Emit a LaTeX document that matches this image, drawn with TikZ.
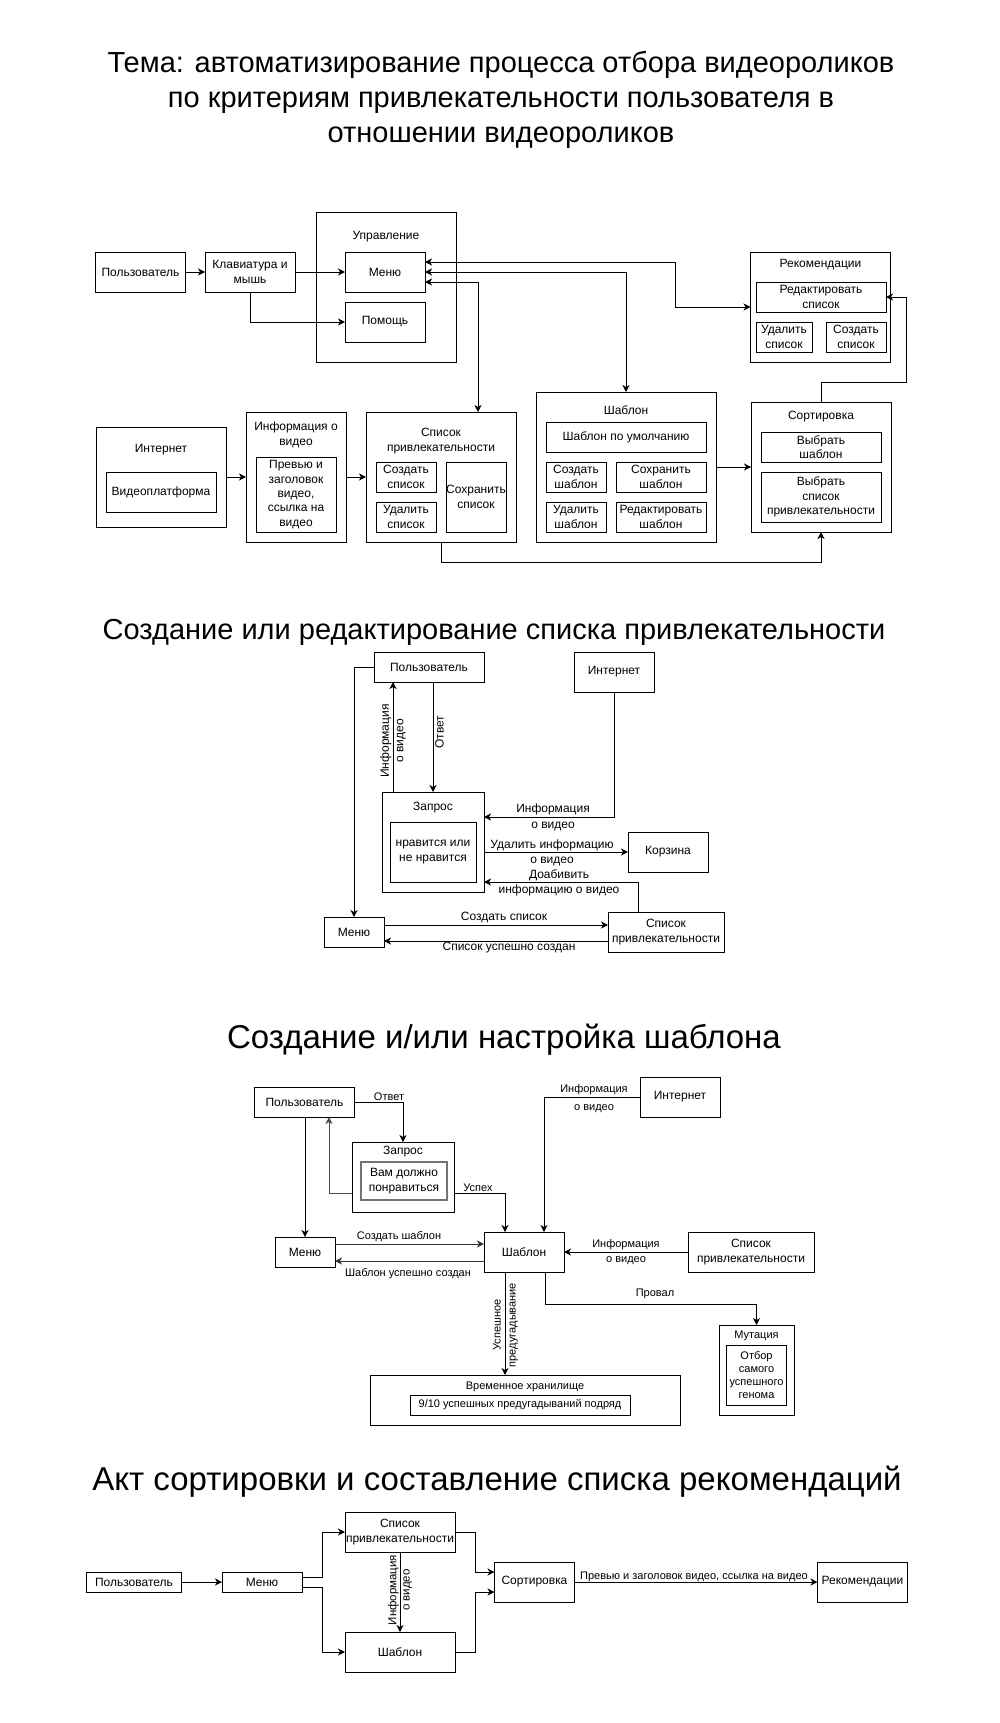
\documentclass[tikz,border=0pt]{standalone}
\usepackage{fontspec}
\setmainfont{Liberation Sans}
\usetikzlibrary{arrows.meta,calc}
\newcommand\myfa{\fontsize{12}{14.4}\selectfont}
\newcommand\myfb{\fontsize{11}{13.2}\selectfont}
\newcommand\myft{\fontsize{29}{35.2}\selectfont}
\newcommand\myftb{\fontsize{33}{39}\selectfont}
\begin{document}
\begin{tikzpicture}[x=1pt,y=-1pt,
  every node/.style={inner sep=0pt,outer sep=0pt,align=center,font=\myfa},
  bx/.style 2 args={draw,line width=1pt,minimum width=#1,minimum height=#2},
  arr/.style={-{Stealth[length=7pt,width=7pt,inset=2pt]},line width=1pt},
  both/.style={{Stealth[length=7pt,width=7pt,inset=2pt]}-{Stealth[length=7pt,width=7pt,inset=2pt]},line width=1pt},
  ttl/.style={font=\myft},
  ttlb/.style={font=\myftb},
  lb/.style={font=\myfb}]
\fill[white] (0,0) rectangle (1000,1723);

% ---------- titles
\node[ttl] (t1) at (501,100) {Тема: автоматизирование процесса отбора видеороликов\\по критериям привлекательности пользователя в\\отношении видеороликов};
\node[ttl] (t2) at (494,632) {Создание или редактирование списка привлекательности};
\node[ttlb] (t3) at (504,1040) {Создание и/или настройка шаблона};
\node[ttlb] (t4) at (497,1482) {Акт сортировки и составление списка рекомендаций};

% ---------- section 1
\node[bx={90}{40}] (u1) at (140.5,272) {Пользователь};
\node[bx={90}{40}] (kb) at (250,272) {Клавиатура и\\мышь};
\node[bx={140}{150}] (upr) at (386,287) {};
\node (uprl) at (386,237) {Управление};
\node[bx={80}{40}] (menu1) at (385,272) {Меню};
\node[bx={80}{40}] (help1) at (385,322) {Помощь};
\node[bx={140}{110}] (rec) at (820.5,307) {};
\node (recl) at (820.5,265) {Рекомендации};
\node[bx={130}{30}] (rece) at (821,297) {Редактировать\\список};
\node[bx={56}{30}] (recd) at (784,337) {Удалить\\список};
\node[bx={60}{30}] (recc) at (856,337) {Создать\\список};

\node[bx={130}{100}] (inet1) at (161,477) {};
\node (inet1l) at (161,450) {Интернет};
\node[bx={110}{40}] (vp) at (161,492) {Видеоплатформа};
\node[bx={100}{130}] (info) at (296,477) {};
\node (infol) at (296,435) {Информация о\\видео};
\node[bx={80}{75}] (prev) at (296,494.5) {Превью и\\заголовок\\видео,\\ссылка на\\видео};
\node[bx={150}{130}] (spl) at (441,477) {};
\node (spll) at (441,441) {Список\\привлекательности};
\node[bx={60}{30}] (splc) at (406,477) {Создать\\список};
\node[bx={60}{30}] (spld) at (406,517) {Удалить\\список};
\node[bx={60}{70}] (spls) at (476,497) {Сохранить\\список};
\node[bx={180}{150}] (sh) at (626,467) {};
\node (shl) at (626,410) {Шаблон};
\node[bx={160}{30}] (shdef) at (626,437) {Шаблон по умолчанию};
\node[bx={60}{30}] (shc) at (576,477) {Создать\\шаблон};
\node[bx={90}{30}] (shs) at (661,477) {Сохранить\\шаблон};
\node[bx={60}{30}] (shd) at (576,517) {Удалить\\шаблон};
\node[bx={90}{30}] (she) at (661,517) {Редактировать\\шаблон};
\node[bx={140}{130}] (sort) at (821,467) {};
\node (sortl) at (821,417) {Сортировка};
\node[bx={120}{30}] (sorts) at (821,447) {Выбрать\\шаблон};
\node[bx={120}{50}] (sortp) at (821,497) {Выбрать\\список\\привлекательности};

\draw[arr] (u1) -- (kb);
\draw[arr] (kb) -- (menu1);
\draw[arr] (kb.south) |- (help1.west);
\draw[both] (menu1.east |- 0,262) -| (675,307) -- (rec.west);
\draw[both] (menu1.east) -| (sh.north);
\draw[both] (menu1.east |- 0,282) -| (spl.north -| 478,0);
\draw[arr] (inet1) -- (info);
\draw[arr] (info) -- (spl);
\draw[arr] (sh) -- (sort);
\draw[arr] (spl.south) -- (441,562) -| (sort.south);
\draw[arr] (sort.north) |- (906,382) |- (rece.east);

% ---------- section 2
\node[bx={110}{30}] (u2) at (429,667) {Пользователь};
\node[bx={80}{40}] (inet2) at (614,672) {Интернет};
\node[bx={102}{100}] (zap) at (433,842) {};
\node (zapl) at (433,808) {Запрос};
\node[bx={86}{60}] (like) at (433,852) {нравится или\\не нравится};
\node[bx={80}{40}] (korz) at (668,852) {Корзина};
\node[bx={60}{30}] (menu2) at (354,932) {Меню};
\node[bx={116}{40}] (spl2) at (666,932) {Список\\привлекательности};

\draw[arr] (u2.west) -| (menu2.north);
\draw[arr] (zap.north -| 393,0) -- (u2.south -| 393,0);
\node[rotate=90] (l21) at (393,741) {Информация\\о видео};
\draw[arr] (u2.south -| 433,0) -- (zap.north -| 433,0);
\node[rotate=90] (l22) at (439.5,732) {Ответ};
\draw[arr] (inet2.south) |- (zap.east |- 0,817);
\node[font=\fontsize{12}{16}\selectfont] (l23) at (553,817) {Информация\\о видео};
\draw[arr] (zap.east |- 0,852) -- (korz.west);
\node[font=\fontsize{12}{15}\selectfont] (l24) at (552,852.5) {Удалить информацию\\о видео};
\draw[arr] (spl2.north -| 638,0) |- (zap.east |- 0,882);
\node[font=\fontsize{12}{15}\selectfont] (l25) at (559,882.5) {Доабивить\\информацию о видео};
\draw[arr] (menu2.east |- 0,925) -- (spl2.west |- 0,925);
\node (l26) at (504,917) {Создать список};
\draw[arr] (spl2.west |- 0,941) -- (menu2.east |- 0,941);
\node (l27) at (509,948) {Список успешно создан};

% ---------- section 3
\node[bx={100}{30}] (u3) at (304.5,1102) {Пользователь};
\node[bx={102}{70}] (zap3) at (403,1177) {};
\node (zap3l) at (403,1152) {Запрос};
\node[bx={86}{38},draw=black!55,line width=2pt] (vam) at (404,1181) {Вам должно\\понравиться};
\node[bx={80}{40}] (inet3) at (680,1097) {Интернет};
\node[bx={60}{30}] (menu3) at (305,1252) {Меню};
\node[bx={80}{40}] (sh3) at (524,1252) {Шаблон};
\node[bx={126}{40}] (spl3) at (751,1252) {Список\\привлекательности};
\node[bx={310}{50}] (tmp) at (525,1400) {};
\node[lb] (tmpl) at (525,1387) {Временное хранилище};
\node[bx={220}{20},lb] (nine) at (520,1405) {9/10 успешных предугадываний подряд};
\node[bx={75}{90}] (mut) at (756.5,1370) {};
\node[lb] (mutl) at (756.5,1336) {Мутация};
\node[bx={60}{60},lb] (otb) at (756.5,1375) {Отбор\\самого\\успешного\\генома};

\draw[arr] (u3.east) -| (zap3.north);
\node[lb] (l31) at (389,1097) {Ответ};
\draw[arr,draw=black!70] (zap3.west |- 0,1193) -| (u3.south -| 329,0);
\draw[arr] (u3.south -| menu3.north) -- (menu3.north);
\draw[arr] (zap3.east |- 0,1193) -| (sh3.north -| 505,0);
\node[lb] (l32) at (478,1188) {Успех};
\draw[arr] (inet3.west) -| (sh3.north -| 544,0);
\node[font=\fontsize{11}{18}\selectfont] (l33) at (594,1099) {Информация\\о видео};
\draw[arr,draw=black!80] (menu3.east |- 0,1244) -- (sh3.west |- 0,1244);
\node[lb] (l34) at (399,1237) {Создать шаблон};
\draw[arr,draw=black!80] (sh3.west |- 0,1261) -- (menu3.east |- 0,1261);
\node[lb] (l35) at (408,1274) {Шаблон успешно создан};
\draw[arr] (spl3) -- (sh3);
\node[font=\fontsize{11}{15}\selectfont] (l36) at (626,1252.5) {Информация\\о видео};
\draw[arr] (sh3.south -| 505,0) -- (tmp.north -| 505,0);
\node[rotate=90,font=\fontsize{11}{15}\selectfont] (l37) at (505.5,1325) {Успешное\\предугадывание};
\draw[arr] (sh3.south -| 545,0) |- (mut.north |- 0,1304) -- (mut.north);
\node[lb] (l38) at (655,1294) {Провал};

% ---------- section 4
\node[bx={95}{20}] (u4) at (134,1582) {Пользователь};
\node[bx={80}{20}] (menu4) at (262,1582) {Меню};
\node[bx={110}{40}] (spl4) at (400,1532) {Список\\привлекательности};
\node[bx={110}{40}] (sh4) at (400,1652) {Шаблон};
\node[bx={80}{40}] (sort4) at (534.5,1582) {Сортировка};
\node[bx={90}{40}] (rec4) at (862.5,1582) {Рекомендации};

\draw[arr] (u4) -- (menu4);
\draw[arr] (menu4.east |- 0,1577) -- (322,1577) |- (spl4.west);
\draw[arr] (menu4.east |- 0,1587) -- (322,1587) |- (sh4.west);
\draw[arr] (spl4) -- (sh4);
\node[rotate=90,font=\fontsize{11.5}{13.4}\selectfont] (l41) at (400,1590) {Информация\\о видео};
\draw[arr] (spl4.east) -- (475,1532) |- (sort4.west |- 0,1572);
\draw[arr] (sh4.east) -- (475,1652) |- (sort4.west |- 0,1592);
\draw[arr] (sort4) -- (rec4);
\node[lb] (l42) at (694,1576.5) {Превью и заголовок видео, ссылка на видео};
\end{tikzpicture}
\end{document}
